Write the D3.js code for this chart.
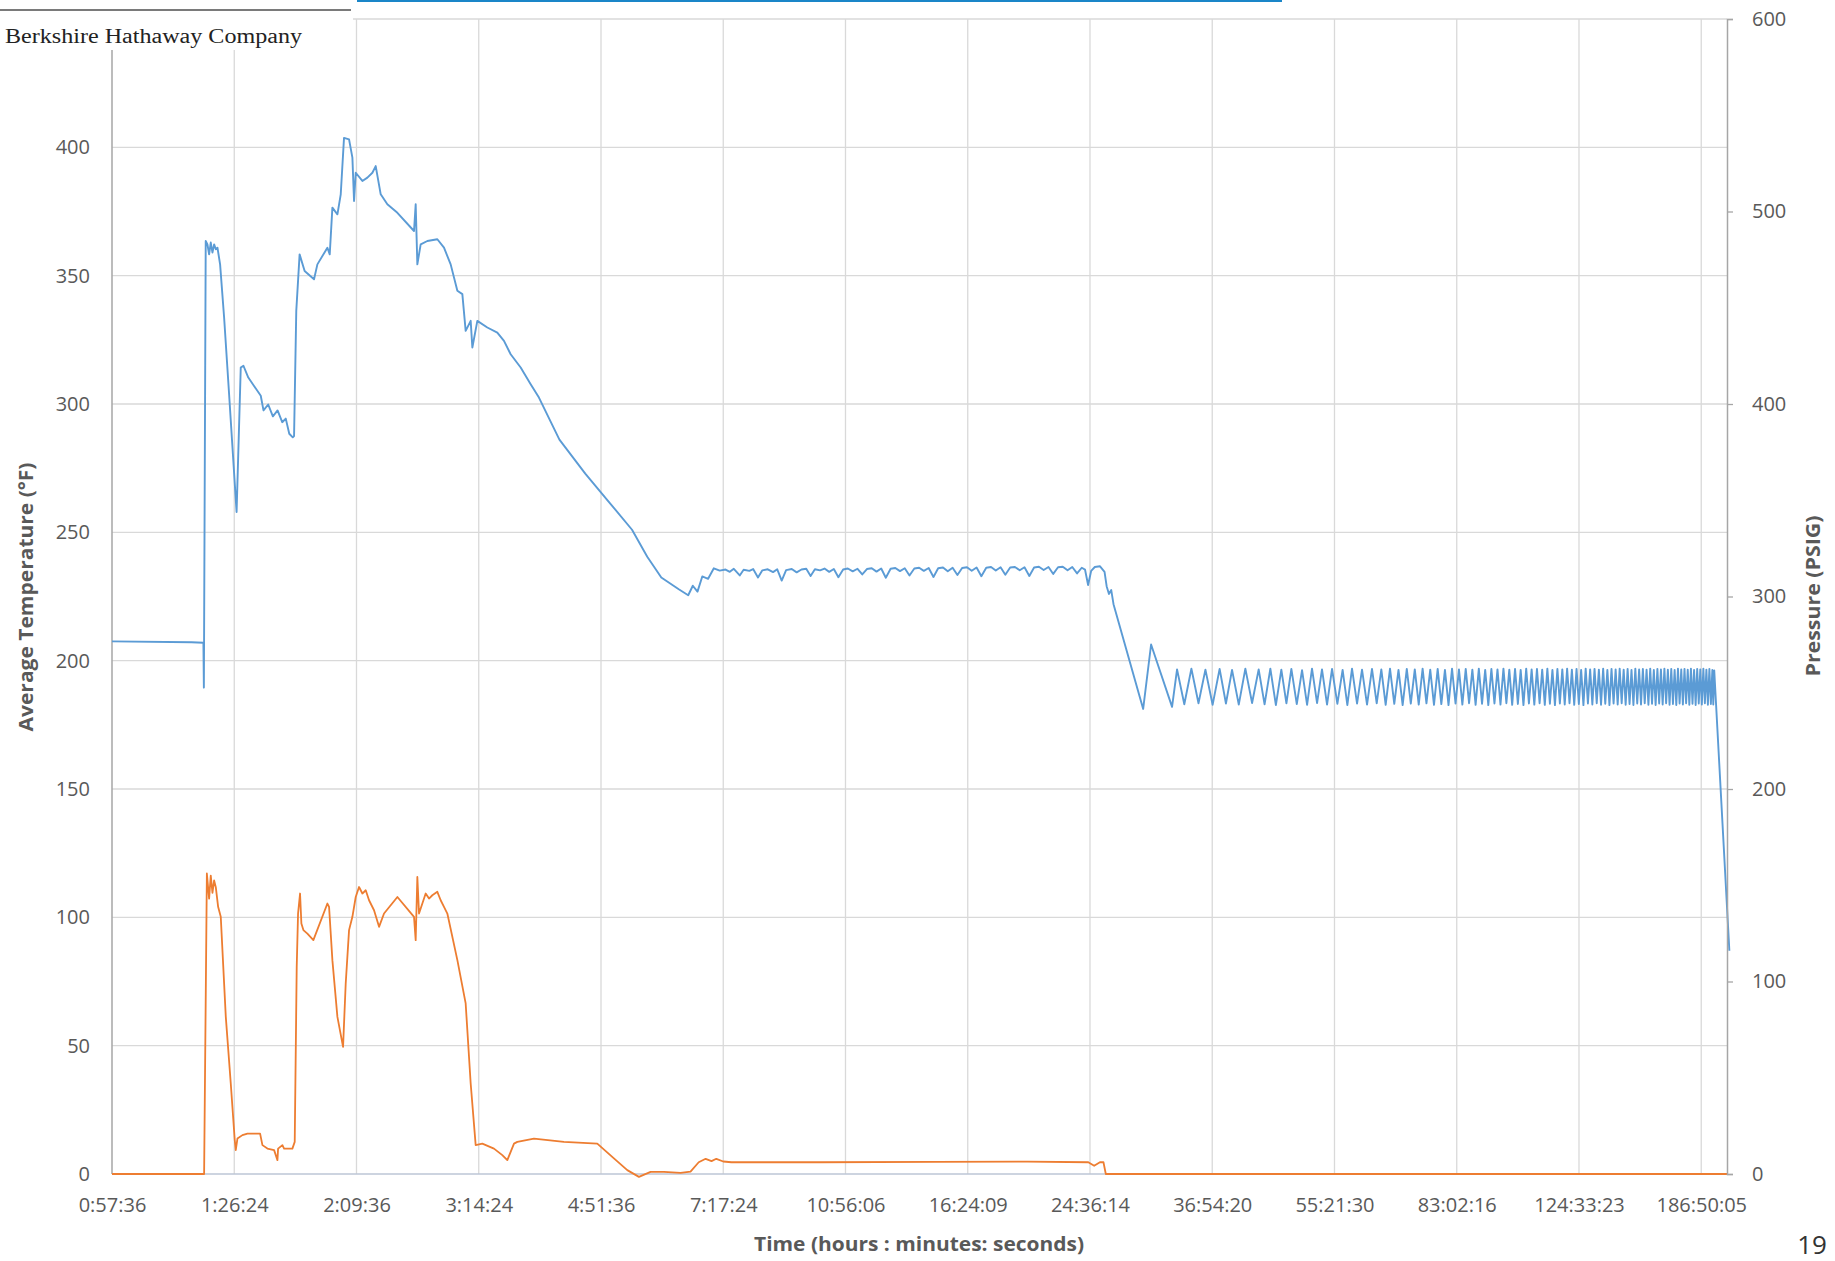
<!DOCTYPE html>
<html><head><meta charset="utf-8">
<script src="https://cdn.jsdelivr.net/npm/d3@7"></script>
<style>html,body{margin:0;padding:0;background:#fff;} svg{display:block;}</style>
</head><body><svg id="chart" width="1835" height="1261"></svg>
<script>
// ---------- DATA ----------
const xTickHours = [0.96, 1.44, 2.16, 3.24, 4.86, 7.29, 10.935, 16.4025, 24.60375, 36.905625, 55.3584375, 83.03765625, 124.556484375, 186.8347265625];
const xTickLabels = ["0:57:36","1:26:24","2:09:36","3:14:24","4:51:36","7:17:24","10:56:06","16:24:09","24:36:14","36:54:20","55:21:30","83:02:16","124:33:23","186:50:05"];
const tempTicks = [0,50,100,150,200,250,300,350,400];
const tempGrid = [50,100,150,200,250,300,350,400,450];
const pressureTicks = [0,100,200,300,400,500,600];

// Average temperature (°F) vs time (hours)
const tempEarly = [[0.96,207.5],[1.25,207.2],[1.300,207.0],[1.302,189.5],[1.310,363.5],[1.3175,362.2],[1.3248,358.3],[1.3321,362.9],[1.3396,359.0],[1.3470,362.2],[1.3545,360.3],[1.3620,360.9],[1.3740,354.4],[1.3924,333.7],[1.4156,303.8],[1.4512,257.9],[1.4714,314.2],[1.4846,314.9],[1.5087,310.3],[1.5724,303.2],[1.5867,297.5],[1.6116,299.8],[1.6369,295.2],[1.6625,297.5],[1.6884,292.9],[1.7083,294.3],[1.7283,288.4],[1.7484,287.0],[1.7560,287.5],[1.7689,336.3],[1.7886,358.3],[1.8186,351.8],[1.8762,348.6],[1.8972,354.4],[1.9613,360.9],[1.9765,358.3],[1.9940,376.5],[2.0275,373.9],[2.0500,381.7],[2.0724,403.7],[2.1073,403.1],[2.1308,396.0],[2.1425,379.1],[2.1544,390.1],[2.2026,386.9],[2.2395,388.2],[2.2769,390.1],[2.3021,392.7],[2.3406,381.7],[2.3928,377.8],[2.4738,374.5],[2.6140,367.4],[2.6285,377.8],[2.6430,354.4],[2.6724,362.2],[2.7322,363.5],[2.8242,364.2],[2.8873,360.9],[2.9519,354.4],[3.0182,344.1],[3.0685,342.8],[3.1024,328.5],[3.1545,332.4],[3.1720,322.0],[3.2249,332.4],[3.3336,329.8],[3.4457,327.8],[3.5229,324.6],[3.6017,319.4],[3.7234,314.2],[3.8488,307.7],[3.9560,302.5],[4.234,286.1],[4.613,272.9],[4.984,262.0],[5.387,251.0],[5.666,240.5],[5.936,232.4],[6.290,227.8],[6.490,225.5],[6.590,229.2],[6.693,226.9],[6.800,232.8],[6.933,231.9],[7.066,236.0],[7.205,235.1]];
const tempPlateau = [[7.346,235.5],[7.45,234.6],[7.55,235.8],[7.70,233.2],[7.80,235.4],[7.95,235.0],[8.05,235.7],[8.18,232.4],[8.30,235.2],[8.45,235.6],[8.60,234.5],[8.72,235.6],[8.85,231.2],[8.98,235.3],[9.15,235.7],[9.30,234.4],[9.45,235.5],[9.60,235.8],[9.74,233.0],[9.88,235.6],[10.05,235.2],[10.20,235.9],[10.36,234.6],[10.52,235.7],[10.68,232.5],[10.85,235.5],[11.02,235.9],[11.20,234.8],[11.38,235.8],[11.56,233.6],[11.74,235.7],[11.93,236.0],[12.12,234.7],[12.31,235.9],[12.50,232.3],[12.70,235.8],[12.90,236.1],[13.10,234.9],[13.31,236.0],[13.52,233.2],[13.74,235.9],[13.96,236.2],[14.18,235.0],[14.41,236.1],[14.64,232.6],[14.87,236.0],[15.11,236.3],[15.35,234.8],[15.60,236.2],[15.85,233.4],[16.10,236.1],[16.36,236.4],[16.62,235.0],[16.89,236.3],[17.16,232.9],[17.44,236.2],[17.72,236.5],[18.00,235.1],[18.29,236.4],[18.58,233.5],[18.88,236.3],[19.18,236.5],[19.49,235.2],[19.80,236.4],[20.12,233.0],[20.44,236.3],[20.77,236.6],[21.10,235.3],[21.44,236.5],[21.78,233.8],[22.13,236.4],[22.48,236.6],[22.84,235.2],[23.20,236.5],[23.57,234.0],[23.94,236.2],[24.2,235.5],[24.45,229.5],[24.7,235.0],[25.0,236.5],[25.42,236.8],[25.82,234.6],[26.0,229.0],[26.2,226.0],[26.4,227.5],[26.6,222.0],[29.35,181.2],[30.13,206.3],[32.30,182.0]];
const tempCycling = [[32.84,196.6],[33.64,183.0],[34.44,196.9],[35.26,183.4],[36.08,196.5],[36.95,182.8],[37.82,196.8],[38.62,183.3],[39.41,196.4],[40.30,182.9],[41.19,196.9],[42.12,183.5],[43.05,196.6],[43.90,183.0],[44.75,196.9],[45.58,182.7],[46.41,196.5],[47.20,183.4],[47.98,196.8],[48.85,183.1],[49.71,196.3],[50.55,182.8],[51.38,196.9],[52.25,183.5],[53.11,196.6],[54.01,182.9],[54.91,196.8],[55.89,183.2],[56.87,196.4],[57.77,182.7],[58.67,196.9],[59.66,183.3],[60.65,196.5],[61.67,182.9],[62.69,196.8],[63.68,183.4],[64.66,196.6],[65.60,182.8],[66.55,196.9],[67.50,183.2],[68.45,196.4],[69.40,182.7],[70.36,196.8],[71.30,183.3],[72.25,196.6],[73.20,182.9],[74.15,196.9],[75.10,183.4],[76.05,196.5],[77.00,182.8],[77.95,196.8],[78.90,183.1],[79.85,196.4],[80.80,182.7],[81.75,196.9],[82.70,183.3],[83.65,196.6],[84.60,182.9],[85.55,196.8],[86.50,183.4],[87.45,196.5],[88.40,182.8],[89.35,196.9],[90.30,183.2],[91.25,196.4],[92.20,182.7],[93.15,196.8],[94.10,183.3],[95.05,196.6],[96.00,182.9],[96.95,196.9],[97.90,183.4],[98.85,196.5],[99.80,182.8],[100.75,196.8],[101.70,183.1],[102.65,196.4],[103.60,182.7],[104.55,196.9],[105.50,183.3],[106.45,196.6],[107.40,182.9],[108.35,196.8],[109.30,183.4],[110.25,196.5],[111.20,182.8],[112.15,196.9],[113.10,183.2],[114.05,196.4],[115.00,182.7],[115.95,196.8],[116.90,183.3],[117.85,196.6],[118.80,182.9],[119.75,196.9],[120.70,183.4],[121.65,196.5],[122.60,182.8],[123.55,196.8],[124.50,183.1],[125.45,196.4],[126.40,182.7],[127.35,196.9],[128.30,183.3],[129.25,196.6],[130.20,182.9],[131.15,196.8],[132.10,183.4],[133.05,196.5],[134.00,182.8],[134.95,196.9],[135.90,183.2],[136.85,196.4],[137.80,182.7],[138.75,196.8],[139.70,183.3],[140.65,196.6],[141.60,182.9],[142.55,196.9],[143.50,183.4],[144.45,196.5],[145.40,182.8],[146.35,196.8],[147.30,183.1],[148.25,196.4],[149.20,182.7],[150.15,196.9],[151.10,183.3],[152.05,196.6],[153.00,182.9],[153.95,196.8],[154.90,183.4],[155.85,196.5],[156.80,182.8],[157.75,196.9],[158.70,183.2],[159.65,196.4],[160.60,182.7],[161.55,196.8],[162.50,183.3],[163.45,196.6],[164.40,182.9],[165.35,196.9],[166.30,183.4],[167.25,196.5],[168.20,182.8],[169.15,196.8],[170.10,183.1],[171.05,196.4],[172.00,182.7],[172.95,196.9],[173.90,183.3],[174.85,196.6],[175.80,182.9],[176.75,196.8],[177.70,183.4],[178.65,196.5],[179.60,182.8],[180.55,196.9],[181.50,183.2],[182.45,196.4],[183.40,182.7],[184.35,196.8],[185.30,183.3],[186.25,196.6],[187.20,182.9],[188.15,196.9],[189.10,183.4],[190.05,196.5],[191.00,182.8],[191.95,196.8],[192.90,183.1],[193.85,196.4],[194.45,182.9],[195.06,196.2]];
const tempEnd = [[205.1,87.0]];

// Pressure (PSIG) vs time (hours)
const pressureEarly = [[0.96,0],[1.303,0],[1.315,156.1],[1.3248,143.0],[1.3321,155.0],[1.3396,146.0],[1.3470,152.5],[1.3545,149.0],[1.3650,138.8],[1.3770,133.6],[1.4002,81.6],[1.4235,47.0],[1.4424,17.6],[1.4472,12.4],[1.4553,18.4],[1.4796,20.2],[1.5044,21.0],[1.5689,21.0],[1.5811,15.0],[1.6075,13.2],[1.6435,12.4],[1.6618,7.2],[1.6654,13.2],[1.6894,15.0],[1.6988,13.2],[1.7463,13.2],[1.7598,16.7],[1.7715,107.6],[1.7794,135.3],[1.7912,145.7],[1.7991,130.1],[1.8112,126.7],[1.8353,124.9],[1.8721,121.5],[1.9613,140.5],[1.9721,138.8],[1.9940,111.1],[2.0275,81.6],[2.0658,66.0],[2.0841,99.0],[2.1073,126.7],[2.1308,133.6],[2.1544,143.9],[2.1782,149.1],[2.2026,145.7],[2.2272,147.4],[2.2518,142.2],[2.2894,137.0],[2.3278,128.4],[2.3665,135.3],[2.4738,143.9],[2.6140,133.6],[2.6285,121.5],[2.6430,154.3],[2.6577,135.3],[2.6873,140.5],[2.7171,145.7],[2.7473,143.1],[2.7778,144.8],[2.8242,146.6],[2.8557,142.2],[2.8873,138.8],[2.9195,135.3],[3.0182,111.1],[3.1024,88.6],[3.1545,47.0],[3.2072,15.0],[3.2786,15.8],[3.4078,13.2],[3.5034,9.8],[3.5621,7.2],[3.6418,15.8],[3.6823,16.7],[3.8912,18.4],[4.2979,16.7],[4.8007,15.8],[5.0729,8.1],[5.3027,2.0],[5.5117,-1.5],[5.7290,1.1],[5.9875,1.1],[6.3277,0.6]];
const pressureLate = [[6.540,1.2],[6.720,6.1],[6.877,7.9],[7.012,6.7],[7.124,7.9],[7.29,6.5],[7.491,6.1],[10.02,6.1],[14.77,6.3],[20.0,6.4],[24.466,6.1],[24.946,4.3],[25.428,6.1],[25.728,6.1],[25.928,0],[203.5,0]];

// ---------- CHART ----------
const W = 1835, H = 1261;
const M = {left:112, right:1727, top:19, bottom:1174};
const svg = d3.select("#chart");
svg.append("rect").attr("width",W).attr("height",H).attr("fill","#fff");

const x = d3.scaleLog().domain([0.96, 203.5]).range([M.left, M.right]);
const yT = d3.scaleLinear().domain([0, 450]).range([M.bottom, M.top]);
const yP = d3.scaleLinear().domain([0, 600]).range([M.bottom, M.top]);

const gridColor = "#d9d9d9";
svg.append("g").selectAll("line").data(tempGrid).join("line")
  .attr("x1", M.left).attr("x2", M.right)
  .attr("y1", d => yT(d)).attr("y2", d => yT(d))
  .attr("stroke", gridColor).attr("stroke-width", 1.3);
svg.append("g").selectAll("line").data(xTickHours.slice(1)).join("line")
  .attr("x1", d => x(d)).attr("x2", d => x(d))
  .attr("y1", M.top).attr("y2", M.bottom)
  .attr("stroke", gridColor).attr("stroke-width", 1.3);

// white header mask (top-left)
svg.append("rect").attr("x",0).attr("y",0).attr("width",353).attr("height",50).attr("fill","#fff");

// baseline
svg.append("line").attr("x1",M.left).attr("x2",M.right).attr("y1",M.bottom).attr("y2",M.bottom)
  .attr("stroke","#bcc6d6").attr("stroke-width",1.6);
// left axis line
svg.append("line").attr("x1",M.left).attr("x2",M.left).attr("y1",50).attr("y2",M.bottom)
  .attr("stroke","#a6a6a6").attr("stroke-width",1.5);

// data lines
const lineT = d3.line().x(d => x(d[0])).y(d => yT(d[1]));
const lineP = d3.line().x(d => x(d[0])).y(d => yP(d[1]));
const tempSeries = tempEarly.concat(tempPlateau, tempCycling, tempEnd);
const pressureSeries = pressureEarly.concat(pressureLate);
svg.append("path").datum(tempSeries).attr("d", lineT)
  .attr("fill","none").attr("stroke","#5b9bd5").attr("stroke-width",1.9).attr("stroke-linejoin","round");
svg.append("path").datum(pressureSeries).attr("d", lineP)
  .attr("fill","none").attr("stroke","#ed7d31").attr("stroke-width",1.8).attr("stroke-linejoin","round");

const tickFont = "'Open Sans', sans-serif";
const tickColor = "#595959";

// left axis
const gL = svg.append("g").attr("transform",`translate(${M.left},0)`)
  .call(d3.axisLeft(yT).tickValues(tempTicks).tickSize(0).tickPadding(22));
gL.select(".domain").remove();
gL.selectAll("text").attr("font-family",tickFont).attr("font-size",20).attr("fill",tickColor);

// right axis
const gR = svg.append("g").attr("transform",`translate(${M.right},0)`)
  .call(d3.axisRight(yP).tickValues(pressureTicks).tickSize(6).tickPadding(19));
gR.select(".domain").attr("stroke","#a6a6a6").attr("stroke-width",1.5);
gR.selectAll(".tick line").attr("stroke","#a6a6a6").attr("stroke-width",1.3);
gR.selectAll("text").attr("font-family",tickFont).attr("font-size",20).attr("fill",tickColor);

// bottom axis
const gB = svg.append("g").attr("transform",`translate(0,${M.bottom})`)
  .call(d3.axisBottom(x).tickValues(xTickHours).tickFormat((d,i) => xTickLabels[i]).tickSize(0).tickPadding(24));
gB.select(".domain").remove();
gB.selectAll("text").attr("font-family",tickFont).attr("font-size",20).attr("fill",tickColor);

// axis titles
svg.append("text").attr("transform","translate(33,597) rotate(-90)")
  .attr("text-anchor","middle").attr("font-family",tickFont).attr("font-weight","bold")
  .attr("font-size",19).attr("fill",tickColor)
  .attr("textLength",269).attr("lengthAdjust","spacingAndGlyphs")
  .text("Average Temperature (°F)");
svg.append("text").attr("transform","translate(1820,596) rotate(-90)")
  .attr("text-anchor","middle").attr("font-family",tickFont).attr("font-weight","bold")
  .attr("font-size",19).attr("fill",tickColor)
  .attr("textLength",161).attr("lengthAdjust","spacingAndGlyphs")
  .text("Pressure (PSIG)");
svg.append("text").attr("x",919).attr("y",1251)
  .attr("text-anchor","middle").attr("font-family",tickFont).attr("font-weight","bold")
  .attr("font-size",20).attr("fill",tickColor)
  .attr("textLength",330).attr("lengthAdjust","spacingAndGlyphs")
  .text("Time (hours : minutes: seconds)");

// page header decorations
svg.append("line").attr("x1",0).attr("x2",351).attr("y1",10).attr("y2",10)
  .attr("stroke","#7a7a7a").attr("stroke-width",2);
svg.append("line").attr("x1",357).attr("x2",1282).attr("y1",1).attr("y2",1)
  .attr("stroke","#1a86c8").attr("stroke-width",2);
svg.append("text").attr("x",5).attr("y",42.5)
  .attr("font-family","'Liberation Serif', 'DejaVu Serif', serif").attr("font-size",20).attr("fill","#222")
  .attr("textLength",297).attr("lengthAdjust","spacingAndGlyphs")
  .text("Berkshire Hathaway Company");
// page number
svg.append("text").attr("x",1812).attr("y",1254)
  .attr("text-anchor","middle").attr("font-family",tickFont).attr("font-size",26).attr("fill","#333")
  .text("19");
</script></body></html>
